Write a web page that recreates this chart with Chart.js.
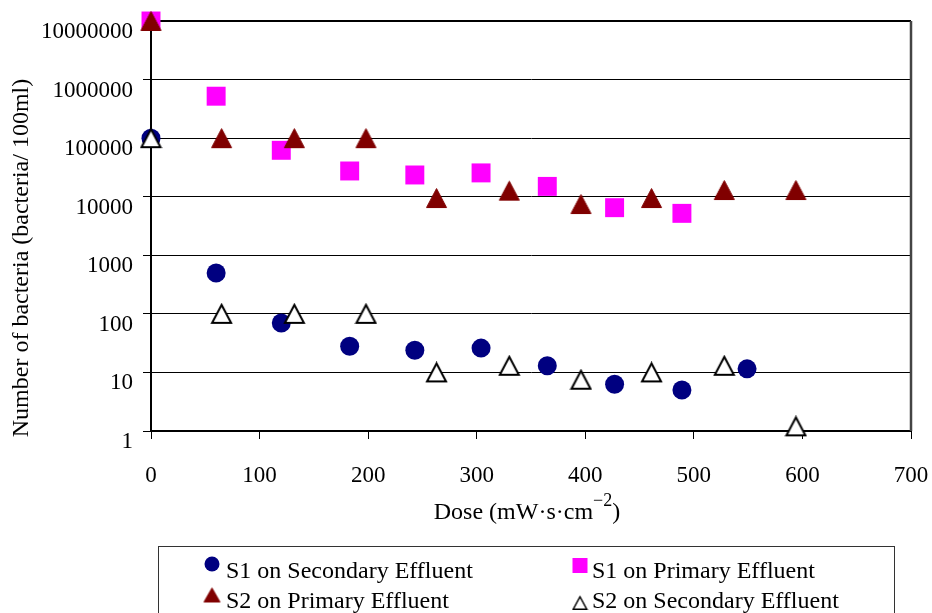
<!DOCTYPE html>
<html>
<head>
<meta charset="utf-8">
<script src="https://cdn.jsdelivr.net/npm/chart.js@4.4.1/dist/chart.umd.min.js"></script>
<style>
  html, body { margin: 0; padding: 0; background: #fff; }
</style>
</head>
<body>
<canvas id="chart" width="932" height="613"></canvas>
<script>
// doses (x) for the two sample sets
const s1Dose = [0, 60, 120, 183, 243, 304, 365, 427, 489, 549];
const s2Dose = [0, 65, 132, 198, 263, 330, 396, 461, 528, 594];

// bacteria counts (per 100ml)
const s1Secondary = [100000, 500, 70, 28, 24, 26, 13, 6.3, 5, 11.5];
const s1Primary = [10000000, 520000, 62000, 27500, 23500, 25500, 15000, 6500, 5200, null];
const s2Primary = [10000000, 100000, 100000, 100000, 9500, 12700, 7500, 9500, 13000, 13000];
const s2Secondary = [100000, 100, 100, 100, 10, 13, 7.5, 10, 13, 1.2];

const seriesNames = ["S1 on Secondary Effluent", "S1 on Primary Effluent", "S2 on Primary Effluent", "S2 on Secondary Effluent"];
const xTicks = [0, 100, 200, 300, 400, 500, 600, 700];
const yTicks = [1, 10, 100, 1000, 10000, 100000, 1000000, 10000000];

const xTitle = "Dose (mW\u00b7s\u00b7cm";
const xTitleSup = "\u22122";
const yTitle = "Number of bacteria (bacteria/ 100ml)";

const navy = "#000080";
const magenta = "#FF00FF";
const maroon = "#800000";
const serif = "'Liberation Serif', 'Times New Roman', serif";

Chart.defaults.font.family = serif;
Chart.defaults.font.size = 23;
Chart.defaults.color = "#000";

function makeTriangle(w, h, fill, stroke, lw) {
    const c = document.createElement('canvas');
    c.width = w + 2;
    c.height = h + 2;
    const g = c.getContext('2d');
    g.beginPath();
    g.moveTo(c.width / 2, 1 + lw / 2);
    g.lineTo(c.width - 1 - lw / 2, c.height - 1 - lw / 2);
    g.lineTo(1 + lw / 2, c.height - 1 - lw / 2);
    g.closePath();
    g.fillStyle = fill;
    g.fill();
    g.lineWidth = lw;
    g.strokeStyle = stroke;
    g.stroke();
    return c;
}

const redTri = makeTriangle(21, 20, maroon, maroon, 1);
const whiteTri = makeTriangle(21, 20, "#fff", "#000", 2);
const redTriSmall = makeTriangle(17, 15, maroon, maroon, 1);
const whiteTriSmall = makeTriangle(15, 14, "#fff", "#000", 1.5);

function pts(xs, ys) {
    return xs.map((x, i) => ({ x: x, y: ys[i] })).filter(p => p.y !== null);
}

// frame, titles and the boxed legend
const decorations = {
    id: 'decorations',
    beforeDatasetsDraw(chart) {
        const { ctx, chartArea } = chart;
        ctx.save();
        ctx.strokeStyle = "#000";
        ctx.lineWidth = 2;
        ctx.beginPath();
        ctx.moveTo(chartArea.left, chartArea.top);
        ctx.lineTo(chartArea.right, chartArea.top);
        ctx.stroke();
        ctx.strokeStyle = "#444";
        ctx.lineWidth = 2.5;
        ctx.beginPath();
        ctx.moveTo(chartArea.right, chartArea.top);
        ctx.lineTo(chartArea.right, chartArea.bottom);
        ctx.stroke();
        ctx.restore();
    },
    afterDraw(chart) {
        const ctx = chart.ctx;
        ctx.save();
        ctx.fillStyle = "#000";

        // y title
        ctx.font = "24px " + serif;
        ctx.textAlign = "center";
        ctx.textBaseline = "middle";
        ctx.translate(22, 258);
        ctx.rotate(-Math.PI / 2);
        ctx.fillText(yTitle, 0, 0);
        ctx.setTransform(1, 0, 0, 1, 0, 0);

        // x title with superscript
        ctx.textAlign = "left";
        ctx.textBaseline = "alphabetic";
        ctx.font = "24px " + serif;
        const w1 = ctx.measureText(xTitle).width;
        const w3 = ctx.measureText(")").width;
        ctx.font = "18px " + serif;
        const w2 = ctx.measureText(xTitleSup).width;
        let x = 527 - (w1 + w2 + w3) / 2;
        ctx.font = "24px " + serif;
        ctx.fillText(xTitle, x, 519);
        x += w1;
        ctx.font = "18px " + serif;
        ctx.fillText(xTitleSup, x, 506);
        x += w2;
        ctx.font = "24px " + serif;
        ctx.fillText(")", x, 519);

        // legend box
        ctx.strokeStyle = "#333";
        ctx.lineWidth = 1;
        ctx.strokeRect(158.5, 546.5, 736, 80);

        ctx.fillStyle = navy;
        ctx.beginPath();
        ctx.arc(212, 564, 7.5, 0, Math.PI * 2);
        ctx.fill();
        ctx.fillStyle = magenta;
        ctx.fillRect(572.5, 558, 15, 15);
        ctx.drawImage(redTriSmall, 212 - redTriSmall.width / 2, 595 - redTriSmall.height / 2);
        ctx.drawImage(whiteTriSmall, 580 - whiteTriSmall.width / 2, 603 - whiteTriSmall.height / 2);

        ctx.fillStyle = "#000";
        ctx.font = "24px " + serif;
        ctx.fillText(seriesNames[0], 226, 578);
        ctx.fillText(seriesNames[1], 592, 578);
        ctx.fillText(seriesNames[2], 226, 608);
        ctx.fillText(seriesNames[3], 592, 608);
        ctx.restore();
    }
};

new Chart(document.getElementById('chart'), {
    type: 'scatter',
    data: {
        datasets: [
            {
                label: seriesNames[0],
                data: pts(s1Dose, s1Secondary),
                pointStyle: 'circle',
                pointRadius: 9.5,
                backgroundColor: navy,
                borderColor: navy,
                borderWidth: 0,
                clip: false,
                order: 4
            },
            {
                label: seriesNames[1],
                data: pts(s1Dose, s1Primary),
                pointStyle: 'rect',
                pointRadius: 13.4,
                backgroundColor: magenta,
                borderColor: magenta,
                borderWidth: 0,
                clip: false,
                order: 3
            },
            {
                label: seriesNames[2],
                data: pts(s2Dose, s2Primary),
                pointStyle: redTri,
                clip: false,
                order: 2
            },
            {
                label: seriesNames[3],
                data: pts(s2Dose, s2Secondary),
                pointStyle: whiteTri,
                clip: false,
                order: 1
            }
        ]
    },
    options: {
        responsive: false,
        animation: false,
        events: [],
        layout: { padding: { top: 21, right: 21, bottom: 120, left: 0 } },
        plugins: {
            legend: { display: false },
            tooltip: { enabled: false }
        },
        scales: {
            x: {
                type: 'linear',
                min: 0,
                max: 700,
                afterBuildTicks: s => { s.ticks = xTicks.map(v => ({ value: v })); },
                afterFit: s => {
                    s.height = 62;
                    s.paddingLeft = 0;
                    s.paddingRight = 0;
                },
                grid: { drawOnChartArea: false, drawTicks: true, tickLength: 8, color: "#000", lineWidth: 1 },
                border: { display: true, color: "#000", width: 2 },
                ticks: { padding: 23, maxRotation: 0, autoSkip: false, color: "#000" }
            },
            y: {
                type: 'logarithmic',
                min: 1,
                max: 10000000,
                afterBuildTicks: s => { s.ticks = yTicks.map(v => ({ value: v })); },
                afterFit: s => {
                    s.width = 151;
                    s.paddingTop = 0;
                    s.paddingBottom = 0;
                },
                grid: { color: "#000", lineWidth: 1, tickLength: 8 },
                border: { color: "#000", width: 2 },
                ticks: { padding: 10, labelOffset: 11, autoSkip: false, color: "#000", callback: v => String(v) }
            }
        }
    },
    plugins: [decorations]
});
</script>
</body>
</html>
